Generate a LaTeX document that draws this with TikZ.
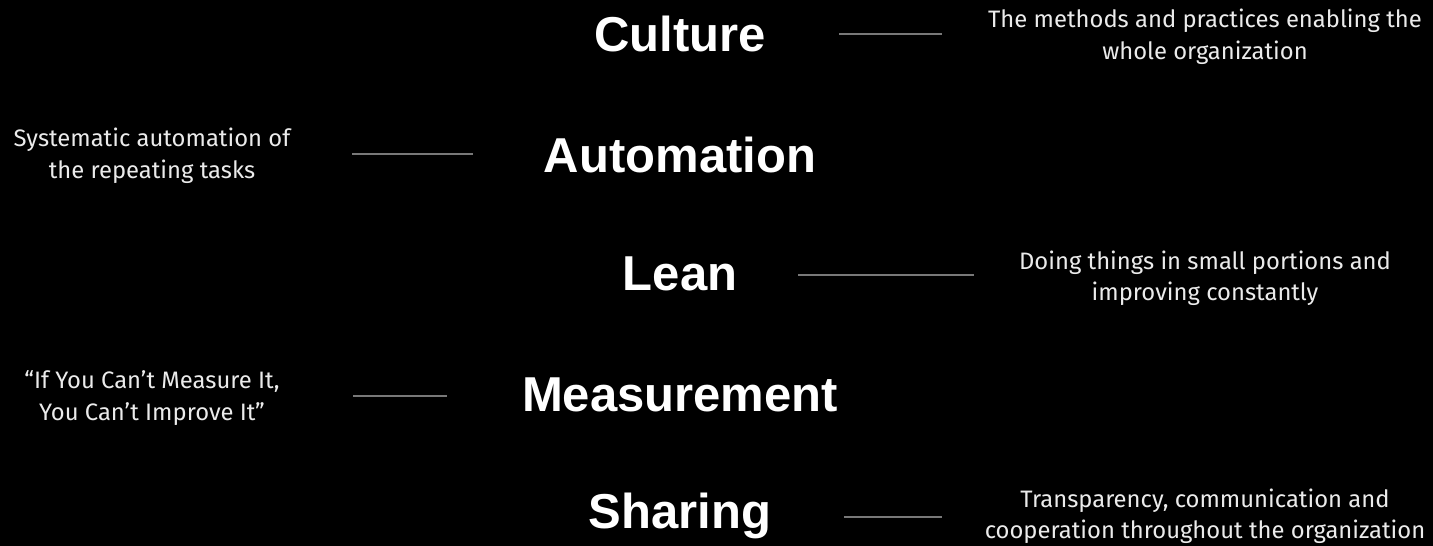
\documentclass[tikz,border=0pt]{standalone}
\usepackage{fontspec}
\setmainfont{Fira Sans}
\newfontfamily\headfont{Liberation Sans}
\begin{document}
\begin{tikzpicture}[x=1pt,y=-1pt,
  head/.style={text=white,font=\headfont\bfseries\fontsize{49}{55}\selectfont,inner sep=0pt,anchor=center},
  desc/.style={text=white!92!black,font=\fontsize{23.8}{31.5}\selectfont,align=center,inner sep=0pt,anchor=center},
  rule/.style={draw=white!47!black,line width=1.6pt}]
\fill[black] (0,0) rectangle (1433,546);
\useasboundingbox (0,0) rectangle (1433,546);
\node[head] (culture) at (680,34) {Culture};
\node[head] (automation) at (680,155) {Automation};
\node[head] (lean) at (680,274) {Lean};
\node[head] (measurement) at (680,395) {Measurement};
\node[head] (sharing) at (680,516) {Sharing};
\node[desc] (dculture) at (1205,37) {The methods and practices enabling the\\whole organization};
\node[desc] (dautomation) at (152,156) {Systematic automation of\\the repeating tasks};
\node[desc] (dlean) at (1205,278) {Doing things in small portions and\\improving constantly};
\node[desc] (dmeasurement) at (152,398) {“If You Can’t Measure It,\\You Can’t Improve It”};
\node[desc] (dsharing) at (1205,516) {Transparency, communication and\\cooperation throughout the organization};
\coordinate (c1) at (839,34); \coordinate (c2) at (942,34);
\coordinate (a1) at (352,154); \coordinate (a2) at (473,154);
\coordinate (l1) at (798,275); \coordinate (l2) at (974,275);
\coordinate (m1) at (353,396); \coordinate (m2) at (447,396);
\coordinate (s1) at (844,517); \coordinate (s2) at (942,517);
\draw[rule] (c1) -- (c2);
\draw[rule] (a1) -- (a2);
\draw[rule] (l1) -- (l2);
\draw[rule] (m1) -- (m2);
\draw[rule] (s1) -- (s2);
\end{tikzpicture}
\end{document}
